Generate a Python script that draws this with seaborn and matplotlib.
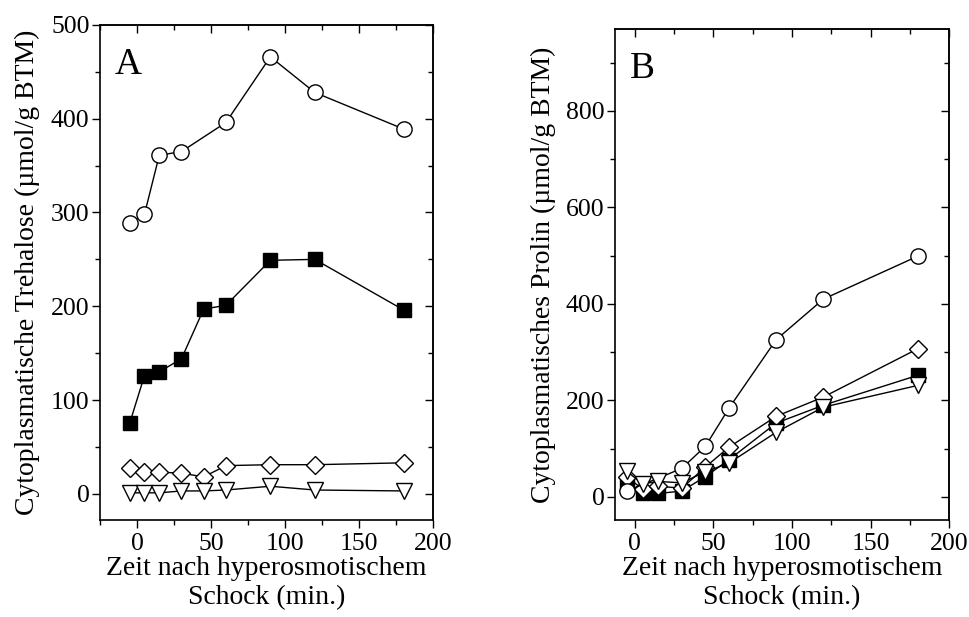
import matplotlib
matplotlib.use("Agg")
import matplotlib.pyplot as plt
import seaborn as sns
import pandas as pd
from matplotlib.ticker import MultipleLocator

# ---- data: panel A (Trehalose) ----
time_all = [-5, 5, 15, 30, 45, 60, 90, 120, 180]
treh_circle_time = [-5, 5, 15, 30, 60, 90, 120, 180]
treh_circle = [289, 298, 361, 365, 396, 466, 428, 389]
treh_square = [75, 126, 130, 144, 197, 201, 249, 250, 196]
treh_diamond = [28, 23, 23, 22, 18, 30, 31, 31, 33]
treh_triangle = [1, 1, 1, 3, 3, 4, 8, 4, 3]

# ---- data: panel B (Prolin) ----
prol_circle_time = [-5, 30, 45, 60, 90, 120, 180]
prol_circle = [12, 59, 105, 184, 326, 410, 499]
prol_square = [25, 7, 7, 12, 42, 77, 153, 190, 252]
prol_diamond = [42, 16, 22, 18, 62, 103, 167, 207, 307]
prol_triangle = [53, 27, 32, 29, 52, 70, 134, 186, 231]

sns.set_theme(style="ticks")
plt.rcParams["font.family"] = ["Liberation Serif", "DejaVu Serif"]

fig = plt.figure(figsize=(9.7, 6.17), dpi=100)
axA = fig.add_axes([0.1031, 0.1572, 0.3436, 0.8023])
axB = fig.add_axes([0.634, 0.1572, 0.3446, 0.7958])

LW = 1.0
MEW = 1.0


def series(ax, x, y, marker, filled, ms):
    df = pd.DataFrame({"t": x, "v": y})
    sns.lineplot(data=df, x="t", y="v", ax=ax, color="black", lw=LW,
                 marker=marker, markersize=ms, markeredgecolor="black",
                 markeredgewidth=MEW,
                 markerfacecolor="black" if filled else "white",
                 estimator=None, sort=False)


def style(ax, xlim, ylim, xmaj, xmin, ymaj, ymin, ylabel, panel):
    ax.set_xlim(*xlim)
    ax.set_ylim(*ylim)
    for s in ax.spines.values():
        s.set_visible(True)
        s.set_linewidth(1.2)
        s.set_color("black")
    ax.xaxis.set_major_locator(MultipleLocator(xmaj))
    ax.xaxis.set_minor_locator(MultipleLocator(xmin))
    ax.yaxis.set_major_locator(MultipleLocator(ymaj))
    ax.yaxis.set_minor_locator(MultipleLocator(ymin))
    ax.tick_params(which="both", direction="out", top=False, right=False,
                   color="black", width=1.0, labelsize=18.5,
                   labelcolor="black")
    ax.tick_params(which="major", length=6)
    ax.tick_params(which="minor", length=3.5)
    ax.tick_params(axis="x", pad=3)
    ax.tick_params(axis="y", pad=1.5)
    # inward mirror ticks on top / right
    top = ax.secondary_xaxis("top")
    top.xaxis.set_major_locator(MultipleLocator(xmaj))
    top.xaxis.set_minor_locator(MultipleLocator(xmin))
    top.tick_params(which="both", direction="in", labeltop=False,
                    color="black", width=1.0)
    top.tick_params(which="major", length=6)
    top.tick_params(which="minor", length=3.5)
    top.spines["top"].set_linewidth(1.2)
    right = ax.secondary_yaxis("right")
    right.yaxis.set_major_locator(MultipleLocator(ymaj))
    right.yaxis.set_minor_locator(MultipleLocator(ymin))
    right.tick_params(which="both", direction="in", labelright=False,
                      color="black", width=1.0)
    right.tick_params(which="major", length=6)
    right.tick_params(which="minor", length=3.5)
    right.spines["right"].set_linewidth(1.2)
    ax.set_xlabel("Zeit nach hyperosmotischem\nSchock (min.)", fontsize=20,
                  color="black", labelpad=1)
    ax.set_ylabel(ylabel, fontsize=20, color="black")
    ax.text(0.045, 0.955, panel, transform=ax.transAxes, fontsize=27,
            ha="left", va="top", color="black")


# Panel A
series(axA, time_all, treh_square, "s", True, 9.5)
series(axA, treh_circle_time, treh_circle, "o", False, 11)
series(axA, time_all, treh_diamond, "D", False, 9)
series(axA, time_all, treh_triangle, "v", False, 11)
style(axA, (-25, 200), (-28, 500), 50, 25, 100, 50,
      "Cytoplasmatische Trehalose (µmol/g BTM)", "A")
axA.yaxis.set_label_coords(-0.18, 0.5)

# Panel B
series(axB, time_all, prol_square, "s", True, 9.5)
series(axB, time_all, prol_diamond, "D", False, 9)
series(axB, prol_circle_time, prol_circle, "o", False, 11)
series(axB, time_all, prol_triangle, "v", False, 11)
style(axB, (-12.5, 200), (-48, 970), 50, 25, 200, 100,
      "Cytoplasmatisches Prolin (µmol/g BTM)", "B")
axB.yaxis.set_label_coords(-0.176, 0.5)

fig.savefig("out.png", dpi=100)
